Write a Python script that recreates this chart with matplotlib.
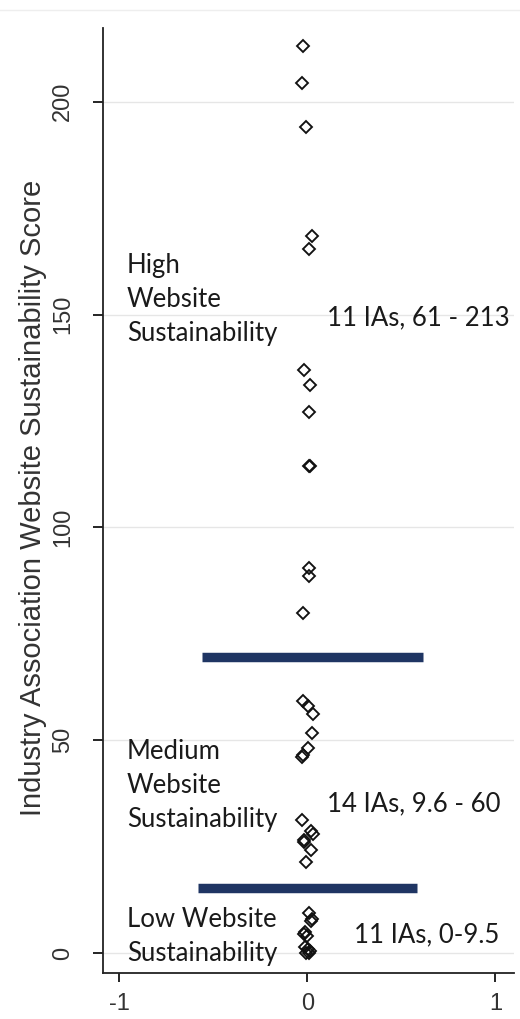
import matplotlib.pyplot as plt
import numpy as np

# scores, x is the small horizontal jitter
high_y = [213, 204.5, 194, 168.5, 165.5, 137, 133.5, 127, 114.5, 114.5, 90.5, 88.5, 80]
high_x = [-0.025, -0.028, -0.007, 0.027, 0.01, -0.016, 0.014, 0.01, 0.01, 0.012, 0.01, 0.01, -0.025]

med_y = [59.3, 58.0, 56.1, 51.8, 48.1, 46.5, 46.1, 31.2, 28.6, 28.1, 26.5, 26.1, 24.2, 21.4]
med_x = [-0.021, 0.002, 0.028, 0.025, 0.002, -0.025, -0.028, -0.028, 0.02, 0.028, -0.02, -0.016, 0.02, -0.007]

low_y = [9.5, 8, 7.5, 5, 4.5, 4, 1.5, 1, 0.5, 0, 0]
low_x = [0.01, 0.025, 0.02, -0.015, -0.02, 0.0, -0.015, 0.005, 0.015, -0.005, 0.01]

# cut-off lines between groups: (y, x start, x end)
cutoffs = [(69.6, -0.56, 0.615), (15.4, -0.58, 0.585)]

yticks = [0, 50, 100, 150, 200]
xticks = [-1, 0, 1]

groups = ["High\nWebsite\nSustainability", "Medium\nWebsite\nSustainability",
          "Low Website\nSustainability"]
group_notes = ["11 IAs, 61 - 213", "14 IAs, 9.6 - 60", "11 IAs, 0-9.5"]

fig = plt.figure(figsize=(5.2, 10.19), dpi=100)
ax = fig.add_axes([0.198, 0.045, 0.79, 0.9275])

for yv in yticks:
    ax.axhline(yv, color='#e6e6e6', lw=1.0, zorder=0)

xs = np.array(high_x + med_x + low_x)
ys = np.array(high_y + med_y + low_y)
ax.plot(xs, ys, linestyle='none', marker='D', ms=6.3, mfc='none', mec='#111111', mew=1.35, zorder=3)

for yv, x0, x1 in cutoffs:
    ax.plot([x0, x1], [yv, yv], color='#1f3563', lw=6.8, solid_capstyle='butt', zorder=2)

lab_font = dict(family=['Lato', 'DejaVu Sans'], fontsize=18.5, color='#1a1a1a',
                linespacing=1.45)
ax.text(-0.96, 153.5, groups[0], va='center', ha='left', **lab_font)
ax.text(-0.96, 39.3, groups[1], va='center', ha='left', **lab_font)
ax.text(-0.96, 4.0, groups[2], va='center', ha='left', **lab_font)
ax.text(0.106, 149.3, group_notes[0], va='center', ha='left', **lab_font)
ax.text(0.106, 35.0, group_notes[1], va='center', ha='left', **lab_font)
ax.text(0.25, 4.4, group_notes[2], va='center', ha='left', **lab_font)

ax.set_xlim(-1.0875, 1.098)
ax.set_ylim(-4.7, 217.3)
ax.set_yticks(yticks)
ax.set_xticks(xticks)
ax.set_yticklabels([str(t) for t in yticks], rotation=90, va='center',
                   family='Liberation Sans', fontsize=17, color='#333333')
ax.set_xticklabels([str(t) for t in xticks], family='Liberation Sans',
                   fontsize=17, color='#333333')
ax.tick_params(axis='y', direction='out', length=7, width=1.2, pad=14)
ax.tick_params(axis='x', direction='out', length=6.5, width=1.2, pad=8)
ax.set_ylabel('Industry Association Website Sustainability Score',
              family='Liberation Sans', fontsize=21, color='#333333')
ax.yaxis.set_label_coords(-0.136, 0.503)

for side in ['top', 'right']:
    ax.spines[side].set_visible(False)
for side in ['left', 'bottom']:
    ax.spines[side].set_linewidth(1.3)
    ax.spines[side].set_color('#222222')

# faint frame line at the top of the graph region
fig.add_artist(plt.Line2D([0.0, 1.0], [0.99, 0.99], color='#eeeeee', lw=1.0))

fig.savefig('out.png', dpi=100)
